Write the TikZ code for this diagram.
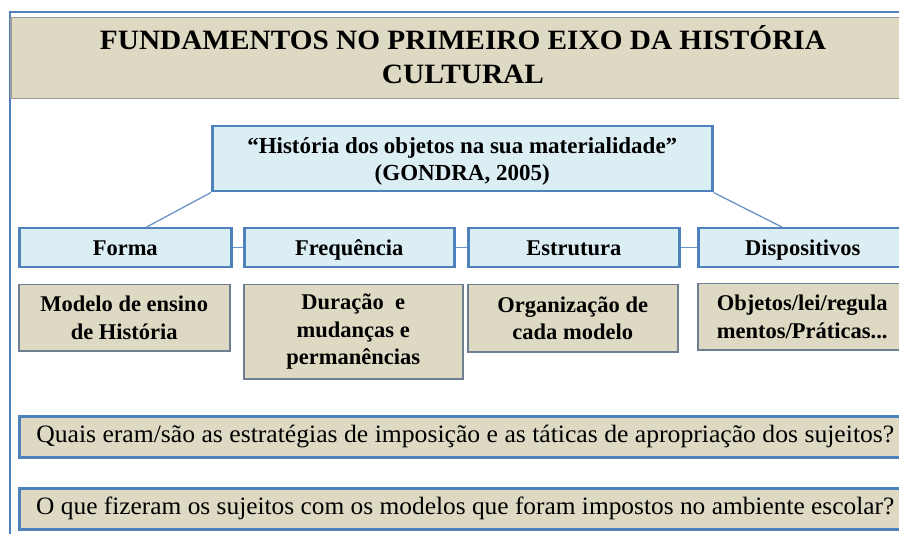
\documentclass[tikz,border=0pt]{standalone}
\usepackage{fontspec}
\setmainfont{Liberation Serif}
\usetikzlibrary{calc}
\definecolor{frameblue}{HTML}{4F81BD}
\definecolor{lightblue}{HTML}{DBEEF4}
\definecolor{tanfill}{HTML}{DDD9C3}
\definecolor{tanborder}{HTML}{6E7F91}
\definecolor{bandborder}{HTML}{9A9A9A}
\definecolor{connblue}{HTML}{6C93C9}
\begin{document}
\begin{tikzpicture}[x=1pt,y=-1pt,
  bluebox/.style={draw=frameblue, line width=2.5pt, fill=lightblue, inner sep=0pt, anchor=north west,
    font=\fontsize{22.5}{27}\selectfont\bfseries, align=center},
  rowtwo/.style={bluebox, minimum height=39pt, text height=18pt, text depth=3pt},
  tanbox/.style={draw=tanborder, line width=1.5pt, fill=tanfill, inner sep=0pt, anchor=north west,
    font=\fontsize{22.5}{27.5}\selectfont\bfseries, align=center},
  qbox/.style={draw=frameblue, line width=2.5pt, fill=tanfill, inner sep=0pt, anchor=north west,
    minimum width=892pt, minimum height=41pt, font=\fontsize{25}{30}\selectfont},
  band/.style={draw=bandborder, line width=1.5pt, fill=tanfill, inner sep=0pt, anchor=north west},
  titletext/.style={inner sep=0pt, anchor=base, font=\fontsize{28}{34}\selectfont\bfseries},
  conn/.style={draw=connblue, line width=1.3pt}]
\useasboundingbox (0,0) rectangle (899,534);
\clip (0,0) rectangle (899,534);
\fill[white] (0,0) rectangle (899,534);
% frame
\draw[frameblue, line width=2pt] (10,540) -- (10,12) -- (960,12);
% title band
\node[band, minimum width=950pt, minimum height=81pt] (band) at (10,17) {};
\node[titletext] (t1) at (463,50) {\resizebox{726pt}{\height}{FUNDAMENTOS NO PRIMEIRO EIXO DA HISTÓRIA}};
\node[titletext] (t2) at (463,84) {\resizebox{162pt}{\height}{CULTURAL}};
% top box
\node[bluebox, minimum width=500pt, minimum height=65pt, font=\fontsize{23}{27}\selectfont\bfseries] (top) at (211,125)
  {\rule{0pt}{21pt}“História dos objetos na sua materialidade”\\(GONDRA, 2005)};
% row 2
\node[rowtwo, minimum width=212pt] (forma) at (18,227) {Forma};
\node[rowtwo, minimum width=210pt] (freq) at (243,227) {Frequência};
\node[rowtwo, minimum width=211pt] (estr) at (467,227) {Estrutura};
\node[rowtwo, minimum width=215pt] (disp) at (697,227) {\hspace*{-6pt}Dispositivos};
% row 3
\node[tanbox, minimum width=211pt, minimum height=66pt] (modelo) at (18,284) {Modelo de ensino\\de História};
\node[tanbox, minimum width=219pt, minimum height=94pt] (dur) at (243,284) {Duração~ e\\mudanças e\\permanências};
\node[tanbox, minimum width=210pt, minimum height=67pt] (org) at (467,284) {Organização de\\cada modelo};
\node[tanbox, minimum width=215pt, minimum height=66pt] (obj) at (697,283) {\hspace*{-6pt}Objetos/lei/regula\\\hspace*{-6pt}mentos/Práticas...};
% questions
\node[qbox] (q1) at (18,415) {\resizebox{858pt}{\height}{Quais eram/são as estratégias de imposição e as táticas de apropriação dos sujeitos?}};
\node[qbox] (q2) at (18,487) {\resizebox{858pt}{\height}{O que fizeram os sujeitos com os modelos que foram impostos no ambiente escolar?}};
% connectors
\draw[conn] (top.south west) -- ($(forma.north west)!0.6!(forma.north east)$);
\draw[conn] (top.south east) -- ($(disp.north west)!0.39!(disp.north east)$);
\draw[conn] (forma.east) -- (freq.west);
\draw[conn] (freq.east) -- (estr.west);
\draw[conn] (estr.east) -- (disp.west);
\end{tikzpicture}
\end{document}
